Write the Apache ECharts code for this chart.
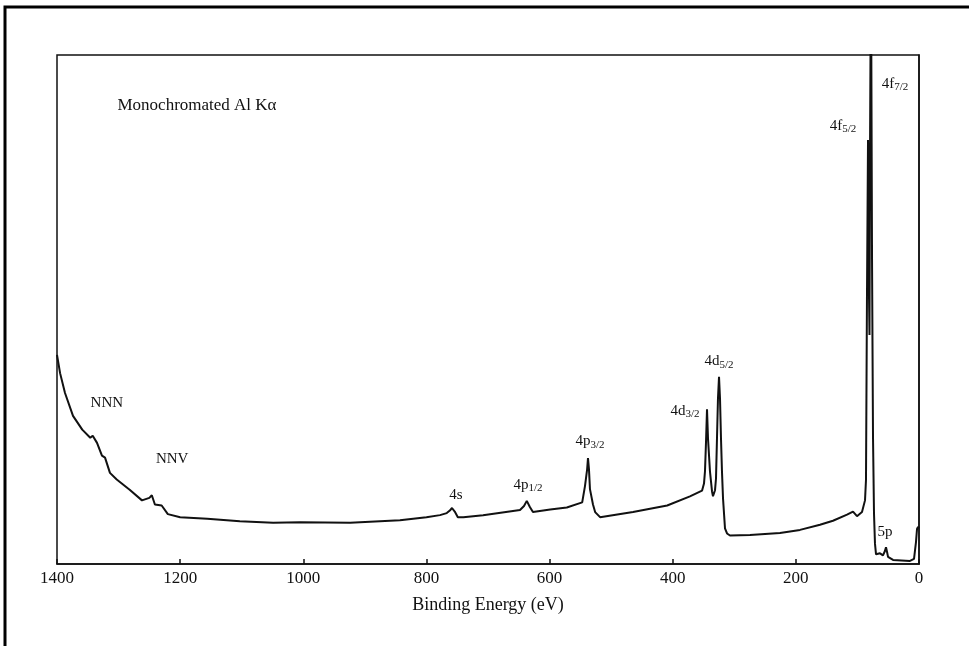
<!DOCTYPE html>
<html>
<head>
<meta charset="utf-8">
<script src="https://cdn.jsdelivr.net/npm/echarts@6/dist/echarts.min.js"></script>
<style>
html,body{margin:0;padding:0;background:#fff;}
#chart{width:969px;height:646px;}
</style>
</head>
<body>
<div id="chart"></div>
<script>
// Binding energy (eV) and intensity (arb. units)
const energies = [1400,1395,1387,1374,1359,1346,1342,1335,1327,1322,1314,1303,1282,1262,1250,1246,1241,1230,1220,1200,1156,1103,1049,1005,924,843,800,778,767,762,758.5,754,749,740,708,648,641.5,637,632,627,599,572,547,542.5,539,537.6,536,534.4,529.5,526,518,464.5,409,372,352.4,349.2,347.6,346,344.3,342.7,339.5,336.2,334.6,331.3,329.7,328.1,326.5,324.8,323.2,321.6,320,318.3,315.1,311.8,307,274.5,225.8,193.3,160.8,139.7,116.9,107.2,100.7,92.6,87.7,86.1,84.5,82.8,81.2,80.4,79.6,78.0,76.3,74.7,73.1,71.5,69.8,63.3,58.5,55.5,53.6,51.8,50.3,42.2,14.6,8.1,4.9,3.2,1.6,0];
const intensities = [41.1,37.5,33.6,29.1,26.4,24.8,25.2,23.8,21.3,20.9,17.9,16.6,14.6,12.5,13.0,13.5,11.7,11.5,9.8,9.2,8.9,8.4,8.1,8.2,8.1,8.6,9.2,9.6,10.0,10.5,11.0,10.3,9.2,9.2,9.6,10.6,11.4,12.4,11.2,10.2,10.7,11.1,12.1,15.3,18.6,20.8,18.6,14.7,11.7,10.2,9.2,10.2,11.5,13.3,14.4,15.8,18.2,23.7,30.4,24.7,18.2,14.3,13.3,14.5,16.8,24.7,32.5,36.8,32.5,24.7,18.2,12.9,7.0,6.0,5.6,5.7,6.1,6.7,7.7,8.5,9.7,10.3,9.4,10.2,12.5,16.5,52.5,83.3,52.5,45,80,120,60,25,10,4,1.9,2.1,1.7,2.5,3.3,2.3,1.4,0.8,0.6,1.0,4.3,6.9,7.3,7.0];

// Peak annotations
const labelNames = ['NNN','NNV','4s','4p|1/2','4p|3/2','4d|3/2','4d|5/2','4f|5/2','4f|7/2','5p'];
const labelEnergies = [1319,1213,752,635,534.4,380,324.8,123.4,39,55.2];
const labelIntensities = [31.7,20.6,13.5,15.6,24.1,30.1,39.8,86.1,94.3,6.2];

const xTicks = [0,200,400,600,800,1000,1200,1400];
const sourceLabel = 'Monochromated Al K\u03b1';
const xTitle = 'Binding Energy (eV)';

const FONT = '"Liberation Serif", "DejaVu Serif", serif';

const lineData = energies.map((e,i)=>[e,intensities[i]]);
const labelData = labelNames.map((n,i)=>({value:[labelEnergies[i],labelIntensities[i]], name:n}));

const chart = echarts.init(document.getElementById('chart'));
chart.setOption({
  animation:false,
  backgroundColor:'#fff',
  graphic:[{
    type:'rect', shape:{x:5,y:7,width:1000,height:700},
    style:{fill:'none',stroke:'#000',lineWidth:3}, silent:true
  }],
  grid:{left:57,right:50,top:55,bottom:82,show:true,borderColor:'#111',borderWidth:1.5,backgroundColor:'transparent'},
  xAxis:{
    type:'value', inverse:true, min:0, max:1400, interval:200,
    axisLine:{show:true,lineStyle:{color:'#111',width:1.5}},
    axisTick:{show:true,inside:true,length:5,lineStyle:{color:'#111',width:1.5}},
    axisLabel:{color:'#111',fontFamily:FONT,fontSize:17,margin:6,
      formatter:(v)=> xTicks.includes(v)? String(v):''},
    splitLine:{show:false},
    name:xTitle, nameLocation:'middle', nameGap:32,
    nameTextStyle:{color:'#111',fontFamily:FONT,fontSize:18}
  },
  yAxis:{
    type:'value', min:0, max:100,
    axisLine:{show:true,lineStyle:{color:'#111',width:1.5}},
    axisTick:{show:false}, axisLabel:{show:false}, splitLine:{show:false}
  },
  series:[{
    type:'line', data:lineData, showSymbol:false, symbol:'none', clip:true,
    lineStyle:{color:'#111',width:2}, smooth:false
  },{
    type:'scatter', data:labelData, symbolSize:1, itemStyle:{color:'rgba(0,0,0,0)',opacity:1},
    label:{show:true, position:'inside', color:'#111', opacity:1, fontFamily:FONT,
      formatter:(p)=>{
        const parts=p.name.split('|');
        return parts.length>1 ? '{m|'+parts[0]+'}{s|'+parts[1]+'}' : '{m|'+parts[0]+'}';
      },
      rich:{
        m:{fontFamily:FONT,fontSize:15,color:'#111'},
        s:{fontFamily:FONT,fontSize:11,color:'#111',padding:[7,0,0,0]}
      }
    }
  },{
    type:'scatter', data:[{value:[1302.6,90],name:sourceLabel}], symbolSize:1, itemStyle:{color:'rgba(0,0,0,0)',opacity:1},
    label:{show:true, position:'right', distance:0, color:'#111', opacity:1, fontFamily:FONT, fontSize:17,
      formatter:(p)=>p.name}
  }]
});
</script>
</body>
</html>
